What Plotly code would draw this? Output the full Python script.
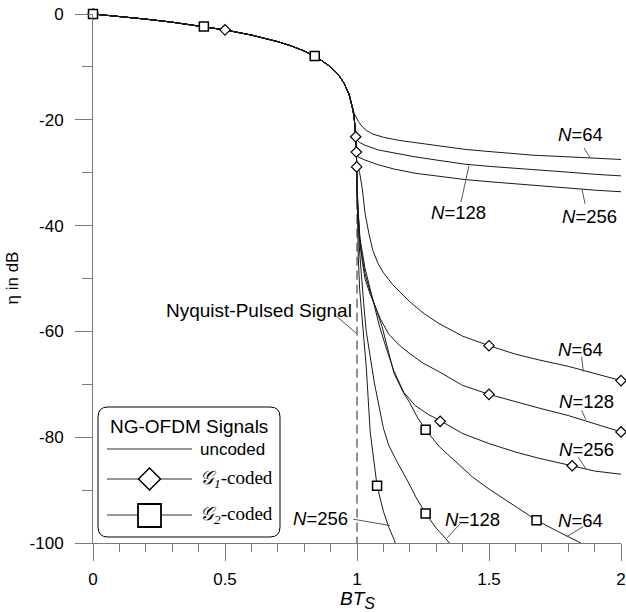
import plotly.graph_objects as go

# ---------------- data ----------------
# common part of all curves (BTs < ~0.99)
common_x = [0, 0.1, 0.2, 0.3, 0.4, 0.5, 0.6, 0.7, 0.75, 0.8, 0.85, 0.9, 0.93, 0.95, 0.97, 0.98, 0.985]
common_y = [0, -0.46, -0.97, -1.55, -2.22, -3.01, -3.98, -5.23, -6.02, -6.99, -8.24, -10.0, -11.5, -13.0, -15.2, -17.0, -18.2]

# Nyquist-pulsed signal
nyq_x = [0.99, 0.995, 0.998, 0.999, 0.9995]
nyq_y = [-20.0, -23.0, -27.0, -30.0, -33.0]
nyq_dash_x = [1.0, 1.0]
nyq_dash_y = [-30.0, -100.0]

# uncoded NG-OFDM
u64_x = [0.99, 0.995, 1.005, 1.02, 1.035, 1.06, 1.1, 1.16, 1.22, 1.3, 1.41, 1.5, 1.67, 1.8, 1.9, 2.0]
u64_y = [-18.9, -19.3, -20.3, -21.3, -22.0, -22.7, -23.3, -23.9, -24.3, -24.9, -25.6, -26.0, -26.7, -27.0, -27.3, -27.5]
u128_x = [0.99, 0.995, 1.0, 1.01, 1.03, 1.08, 1.14, 1.22, 1.3, 1.41, 1.5, 1.67, 1.8, 1.9, 2.0]
u128_y = [-20.0, -22.5, -23.8, -24.3, -24.8, -25.7, -26.3, -27.0, -27.6, -28.4, -28.8, -29.5, -29.9, -30.3, -30.6]
u256_x = [0.99, 0.995, 0.998, 1.003, 1.03, 1.08, 1.14, 1.22, 1.3, 1.41, 1.5, 1.67, 1.8, 1.9, 2.0]
u256_y = [-20.0, -23.0, -26.0, -27.0, -27.6, -28.5, -29.3, -30.1, -30.6, -31.3, -31.7, -32.4, -32.9, -33.3, -33.6]

# G1-coded NG-OFDM
g1_64_x = [0.99, 0.995, 0.999, 1.01, 1.02, 1.03, 1.045, 1.06, 1.08, 1.1, 1.136, 1.2, 1.25, 1.31, 1.4, 1.5, 1.6, 1.69, 1.8, 1.9, 2.0]
g1_64_y = [-20.0, -23.0, -28.0, -30.0, -33.0, -37.5, -41.5, -44.7, -47.2, -48.9, -51.2, -54.4, -56.5, -58.5, -60.9, -62.7, -64.3, -65.4, -66.6, -68.0, -69.3]
g1_128_x = [0.99, 0.995, 0.998, 1.0, 1.005, 1.015, 1.03, 1.05, 1.066, 1.09, 1.12, 1.16, 1.2, 1.25, 1.31, 1.4, 1.5, 1.6, 1.69, 1.8, 1.9, 2.0]
g1_128_y = [-20.0, -23.0, -26.5, -32.0, -38.0, -45.0, -50.0, -53.0, -55.0, -57.8, -60.5, -62.6, -64.2, -66.0, -67.6, -70.2, -71.9, -73.3, -74.5, -75.9, -77.5, -79.0]
g1_256_x = [0.99, 0.995, 0.998, 0.999, 1.0, 1.01, 1.03, 1.05, 1.066, 1.085, 1.113, 1.14, 1.177, 1.22, 1.27, 1.32, 1.4, 1.5, 1.6, 1.69, 1.815, 1.9, 2.0]
g1_256_y = [-20.0, -23.0, -27.0, -30.0, -33.0, -42.0, -48.0, -52.0, -55.0, -59.0, -63.5, -67.5, -71.5, -74.0, -75.7, -77.0, -79.3, -81.2, -82.8, -84.0, -85.4, -86.4, -87.0]

# G2-coded NG-OFDM
g2_64_x = [0.99, 0.995, 0.998, 0.999, 1.0, 1.01, 1.03, 1.05, 1.066, 1.095, 1.12, 1.14, 1.177, 1.2, 1.227, 1.26, 1.312, 1.37, 1.437, 1.5, 1.563, 1.62, 1.68, 1.76, 1.844, 1.848]
g2_64_y = [-20.0, -23.0, -27.0, -30.0, -34.0, -43.0, -49.0, -52.5, -55.0, -59.1, -64.0, -67.9, -71.7, -73.5, -76.1, -78.6, -81.8, -84.5, -87.5, -89.8, -91.9, -93.8, -95.7, -97.8, -99.8, -100.0]
g2_128_x = [0.99, 0.995, 0.998, 0.999, 1.0, 1.01, 1.02, 1.025, 1.035, 1.05, 1.066, 1.085, 1.1, 1.12, 1.15, 1.19, 1.225, 1.26, 1.3, 1.335, 1.35]
g2_128_y = [-20.0, -23.0, -27.0, -30.0, -35.0, -45.0, -52.0, -54.5, -60.0, -65.0, -69.8, -74.5, -78.3, -81.5, -84.5, -88.1, -91.5, -94.4, -97.2, -99.1, -100.0]
g2_256_x = [0.99, 0.995, 0.998, 0.999, 1.0, 1.005, 1.01, 1.02, 1.035, 1.05, 1.06, 1.076, 1.1, 1.12, 1.14, 1.145]
g2_256_y = [-20.0, -23.0, -27.0, -30.0, -38.0, -46.0, -52.0, -58.5, -66.7, -79.0, -83.0, -89.2, -94.0, -97.0, -99.3, -100.0]

# marker positions
g1_mark_x = [0, 0.5, 0.995, 0.9975, 0.9987, 1.5, 2.0, 1.5, 2.0, 1.315, 1.815]
g1_mark_y = [0, -3.0, -23.2, -26.1, -28.9, -62.7, -69.3, -71.9, -79.0, -77.0, -85.4]
g2_mark_x = [0, 0.42, 0.84, 1.076, 1.26, 1.26, 1.68]
g2_mark_y = [0, -2.37, -7.96, -89.2, -94.4, -78.6, -95.7]

# curve labels: (text x, text y, leader start x, y, leader end x, y)
label_text = ["64", "128", "256", "64", "128", "256", "256", "128", "64"]
label_x = [1.848, 1.386, 1.879, 1.848, 1.871, 1.871, 0.86, 1.436, 1.848]
label_y = [-22.7, -37.6, -38.2, -63.5, -73.3, -82.4, -95.3, -95.5, -95.7]
lead_x0 = [1.86, 1.394, 1.864, 1.851, 1.851, 1.837, 0.986, 1.39, 1.857]
lead_y0 = [-25.3, -35.5, -35.9, -64.8, -74.9, -83.7, -95.5, -96.4, -96.9]
lead_x1 = [1.883, 1.424, 1.852, 1.857, 1.867, 1.87, 1.125, 1.34, 1.794]
lead_y1 = [-27.2, -28.7, -33.1, -67.6, -76.7, -86.2, -96.7, -99.1, -98.8]

x_ticks = [0, 0.5, 1, 1.5, 2]
x_ticktext = ["0", "0.5", "1", "1.5", "2"]
y_ticks = [0, -20, -40, -60, -80, -100]
y_ticktext = ["0", "-20", "-40", "-60", "-80", "-100"]

# ---------------- figure ----------------
W, H = 626, 612
ML, MR, MT, MB = 93, 5, 14, 69
PW, PH = W - ML - MR, H - MT - MB
FONT = "Liberation Sans, Arial, sans-serif"
AXC = "#7a7a7a"


def pp(px, py):
    return (px - ML) / PW, (H - MB - py) / PH


fig = go.Figure()

line_style = dict(color="#1a1a1a", width=1)
curves = [
    (nyq_x, nyq_y), (u64_x, u64_y), (u128_x, u128_y), (u256_x, u256_y),
    (g1_64_x, g1_64_y), (g1_128_x, g1_128_y), (g1_256_x, g1_256_y),
    (g2_64_x, g2_64_y), (g2_128_x, g2_128_y), (g2_256_x, g2_256_y),
]
for tx, ty in curves:
    fig.add_trace(go.Scatter(x=common_x + tx, y=common_y + ty, mode="lines",
                             line=line_style, hoverinfo="skip", showlegend=False))

fig.add_trace(go.Scatter(x=nyq_dash_x, y=nyq_dash_y, mode="lines",
                         line=dict(color="#222222", width=1, dash="9px,5px"),
                         hoverinfo="skip", showlegend=False))

fig.add_trace(go.Scatter(x=g1_mark_x, y=g1_mark_y, mode="markers", cliponaxis=False,
                         marker=dict(symbol="diamond", size=8, color="white",
                                     line=dict(color="black", width=1.2)),
                         hoverinfo="skip", showlegend=False))
fig.add_trace(go.Scatter(x=g2_mark_x, y=g2_mark_y, mode="markers", cliponaxis=False,
                         marker=dict(symbol="square", size=9, color="white",
                                     line=dict(color="black", width=1.5)),
                         hoverinfo="skip", showlegend=False))

shapes = []
annotations = []
for t, lx, ly, a0, b0, a1, b1 in zip(label_text, label_x, label_y, lead_x0, lead_y0, lead_x1, lead_y1):
    annotations.append(dict(x=lx, y=ly, xref="x", yref="y", text="<i>N</i>=" + t,
                            showarrow=False, font=dict(family=FONT, size=18.5, color="black"),
                            xanchor="center", yanchor="middle"))
    shapes.append(dict(type="line", xref="x", yref="y", x0=a0, y0=b0, x1=a1, y1=b1,
                       line=dict(color="#555555", width=1)))

# Nyquist label
annotations.append(dict(x=pp(354, 310)[0], y=pp(354, 310)[1], xref="paper", yref="paper",
                        text="Nyquist-Pulsed Signal", showarrow=False,
                        font=dict(family=FONT, size=19, color="black"),
                        xanchor="right", yanchor="middle"))
s0 = pp(334, 314)
s1 = pp(356, 333)
shapes.append(dict(type="line", xref="paper", yref="paper", x0=s0[0], y0=s0[1], x1=s1[0], y1=s1[1],
                   line=dict(color="#555555", width=1)))

# axis titles
annotations.append(dict(x=pp(12, 278)[0], y=0.5, xref="paper", yref="paper", text="η in dB",
                        textangle=-90, showarrow=False, font=dict(family=FONT, size=17, color="black"),
                        xanchor="center", yanchor="middle"))
annotations.append(dict(x=0.5, y=pp(356, 600)[1], xref="paper", yref="paper",
                        text="<i>BT<sub><span style='font-size:16px'>S</span></sub></i>", showarrow=False,
                        font=dict(family=FONT, size=19, color="black"),
                        xanchor="center", yanchor="middle"))

# ---------------- manual legend ----------------
bx0, by0, bx1, by1, r = 98, 407, 280, 537, 10


def P(px, py):
    a, b = pp(px, py)
    return f"{a:.5f},{b:.5f}"


box = (f"M {P(bx0 + r, by0)} L {P(bx1 - r, by0)} Q {P(bx1, by0)} {P(bx1, by0 + r)} "
       f"L {P(bx1, by1 - r)} Q {P(bx1, by1)} {P(bx1 - r, by1)} "
       f"L {P(bx0 + r, by1)} Q {P(bx0, by1)} {P(bx0, by1 - r)} "
       f"L {P(bx0, by0 + r)} Q {P(bx0, by0)} {P(bx0 + r, by0)} Z")
shapes.append(dict(type="path", xref="paper", yref="paper", path=box,
                   fillcolor="white", line=dict(color="black", width=1), layer="above"))

rows = [449, 479, 515]
for ry in rows:
    a0 = pp(107, ry)
    a1 = pp(192, ry)
    shapes.append(dict(type="line", xref="paper", yref="paper", x0=a0[0], y0=a0[1], x1=a1[0], y1=a1[1],
                       line=dict(color="#333333", width=1), layer="above"))
cx, cy = 149.5, 479
dpath = f"M {P(cx, cy - 11)} L {P(cx + 11, cy)} L {P(cx, cy + 11)} L {P(cx - 11, cy)} Z"
shapes.append(dict(type="path", xref="paper", yref="paper", path=dpath, fillcolor="white",
                   line=dict(color="black", width=1.5), layer="above"))
sq0 = pp(138, 504)
sq1 = pp(161, 527)
shapes.append(dict(type="rect", xref="paper", yref="paper", x0=sq0[0], y0=sq0[1], x1=sq1[0], y1=sq1[1],
                   fillcolor="white", line=dict(color="black", width=1.8), layer="above"))

t = pp(188.5, 426.5)
annotations.append(dict(x=t[0], y=t[1], xref="paper", yref="paper", text="NG-OFDM Signals",
                        showarrow=False, font=dict(family=FONT, size=19, color="black"),
                        xanchor="center", yanchor="middle"))
leg_texts = ["uncoded",
             "<span style='font-family:Liberation Serif'><i>𝒢<sub>1</sub></i>-coded</span>",
             "<span style='font-family:Liberation Serif'><i>𝒢<sub>2</sub></i>-coded</span>"]
leg_fonts = [dict(family=FONT, size=17, color="black"),
             dict(family="Liberation Serif, serif", size=19, color="black"),
             dict(family="Liberation Serif, serif", size=19, color="black")]
for ry, txt, fnt in zip(rows, leg_texts, leg_fonts):
    p = pp(198, ry)
    annotations.append(dict(x=p[0], y=p[1], xref="paper", yref="paper", text=txt, showarrow=False,
                            font=fnt, xanchor="left", yanchor="middle"))

fig.update_layout(
    width=W, height=H, margin=dict(l=ML, r=MR, t=MT, b=MB, pad=0, autoexpand=False),
    paper_bgcolor="white", plot_bgcolor="white",
    shapes=shapes, annotations=annotations, showlegend=False,
    font=dict(family=FONT, size=17, color="black"),
)
fig.update_xaxes(range=[0, 2], automargin=False, showgrid=False, zeroline=False, showline=True,
                 linecolor=AXC, linewidth=1,
                 tickmode="array", tickvals=x_ticks, ticktext=x_ticktext,
                 ticks="outside", ticklen=17, tickcolor=AXC, tickwidth=1,
                 tickfont=dict(family=FONT, size=17, color="black"), ticklabelstandoff=4,
                 minor=dict(tickmode="linear", tick0=0, dtick=0.1, ticks="outside", ticklen=8,
                            tickcolor=AXC, tickwidth=1, showgrid=False))
fig.update_yaxes(range=[-100, 0], automargin=False, showgrid=False, zeroline=False, showline=True,
                 linecolor=AXC, linewidth=1,
                 tickmode="array", tickvals=y_ticks, ticktext=y_ticktext,
                 ticks="outside", ticklen=17, tickcolor=AXC, tickwidth=1,
                 tickfont=dict(family=FONT, size=17, color="black"), ticklabelstandoff=8,
                 minor=dict(tickmode="linear", tick0=0, dtick=10, ticks="outside", ticklen=10,
                            tickcolor=AXC, tickwidth=1, showgrid=False))

fig.write_html("out.html", config={"displayModeBar": False, "staticPlot": True},
               post_script="document.body.style.margin='0px';document.body.style.overflow='hidden';")
